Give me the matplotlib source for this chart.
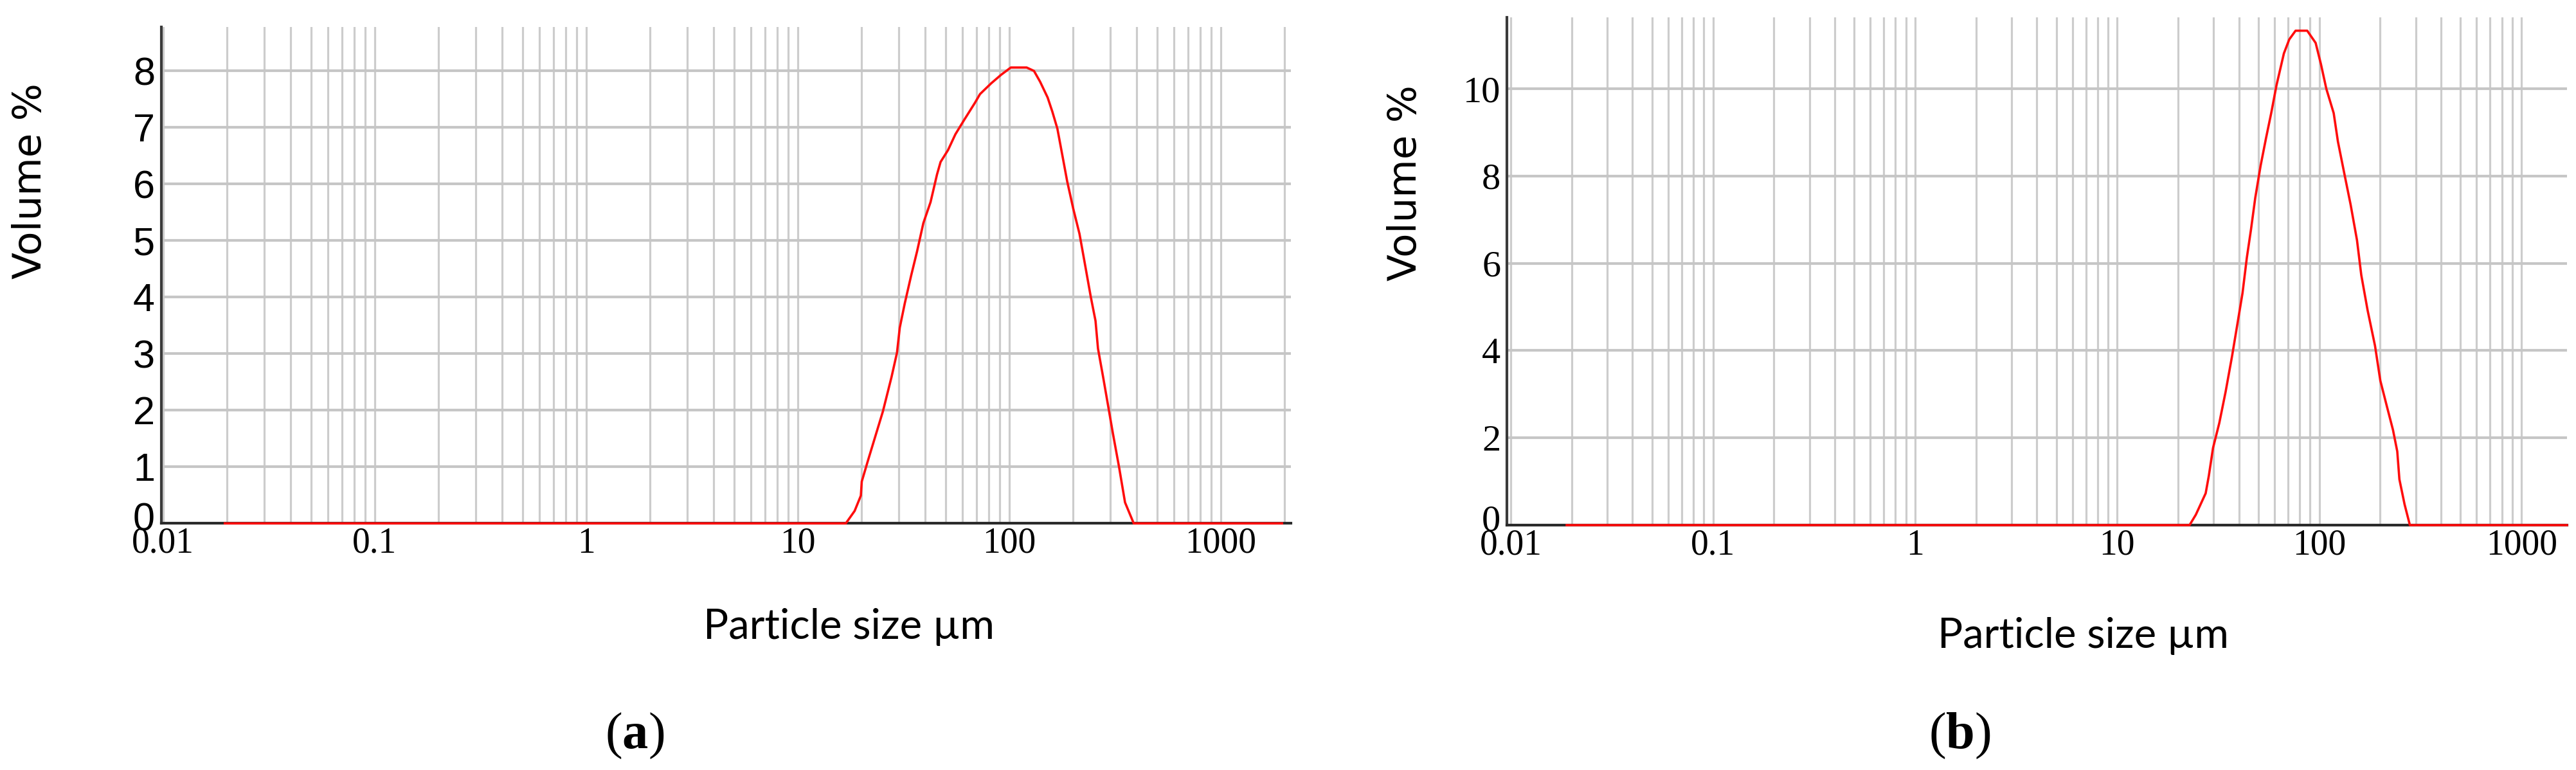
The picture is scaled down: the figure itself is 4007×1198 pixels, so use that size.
import numpy as np
import matplotlib
matplotlib.use("Agg")
import matplotlib.pyplot as plt
from matplotlib.ticker import LogLocator, NullFormatter
from matplotlib.transforms import ScaledTranslation

plt.rcParams['mathtext.fontset'] = 'custom'
plt.rcParams['mathtext.rm'] = 'Liberation Serif'
plt.rcParams['mathtext.bf'] = 'Liberation Serif:bold'

# particle size distribution (size in um, volume %)
size_a = [0.0196, 16.9, 18.6, 19.9, 20.1, 21.5, 23.3, 25.3, 27.8, 29.5, 30.4,
          32.1, 34.4, 36.7, 39.3, 42.5, 45.6, 47.4, 51.4, 55.7, 61.2, 69.0,
          72.8, 82.2, 91.5, 101.8, 121, 131, 140, 152, 160, 169, 179, 188,
          201, 215, 227, 243, 256, 263, 278, 293, 309, 331, 353, 388, 1950]
vol_a = [0, 0, 0.22, 0.49, 0.74, 1.11, 1.54, 1.98, 2.59, 3.02, 3.46,
         3.89, 4.38, 4.81, 5.31, 5.68, 6.17, 6.39, 6.60, 6.88, 7.13, 7.44,
         7.59, 7.78, 7.93, 8.06, 8.06, 8.00, 7.81, 7.53, 7.28, 6.98, 6.48, 6.05,
         5.56, 5.12, 4.63, 4.01, 3.58, 3.09, 2.59, 2.10, 1.60, 0.99, 0.37, 0, 0]

size_b = [0.0189, 22.8, 24.5, 27.4, 28.4, 29.8, 32.0, 34.4, 37.0, 39.3, 41.7,
          43.8, 45.9, 48.2, 51.2, 54.5, 57.8, 61.4, 66.8, 71.0, 76.3, 87.1,
          95.9, 101.9, 108.3, 117.8, 123.6, 132.9, 142.9, 153.6, 161.3, 173.4,
          188.6, 200.4, 215.4, 231.5, 243, 249, 264, 280.6, 1680]
vol_b = [0, 0, 0.24, 0.73, 1.13, 1.77, 2.34, 3.06, 3.87, 4.60, 5.32,
         6.13, 6.77, 7.50, 8.23, 8.87, 9.44, 10.08, 10.81, 11.13, 11.33, 11.33,
         11.05, 10.56, 10.00, 9.44, 8.79, 8.06, 7.34, 6.53, 5.73, 4.92,
         4.11, 3.31, 2.74, 2.18, 1.69, 1.05, 0.48, 0, 0]

x_ticks = [0.01, 0.1, 1, 10, 100, 1000]
x_tick_labels = ['0.01', '0.1', '1', '10', '100', '1000']
y_ticks_a = [0, 1, 2, 3, 4, 5, 6, 7, 8]
y_ticks_b = [0, 2, 4, 6, 8, 10]

fig = plt.figure(figsize=(40.07, 11.98), dpi=100)
ax_a = fig.add_axes([0.06257, 0.3203, 0.4386, 0.6449])
ax_b = fig.add_axes([0.585, 0.318, 0.4115, 0.6597])


def setup(ax, xlim, ylim, yticks, yfont, ysize):
    ax.set_xscale('log')
    ax.set_xlim(*xlim)
    ax.set_ylim(*ylim)
    ax.set_xticks(x_ticks, labels=x_tick_labels)
    ax.xaxis.set_minor_locator(LogLocator(base=10, subs=np.arange(2, 10), numticks=60))
    ax.xaxis.set_minor_formatter(NullFormatter())
    ax.set_yticks(yticks)
    ax.grid(True, which='both', axis='x', color='#cccccc', lw=2.3)
    ax.grid(True, which='major', axis='y', color='#c6c6c6', lw=3.0)
    ax.set_axisbelow(True)
    ax.tick_params(axis='both', which='both', length=0)
    ax.tick_params(axis='x', pad=4, labelsize=40, labelfontfamily='Liberation Serif')
    ax.tick_params(axis='y', pad=7, labelsize=ysize, labelfontfamily=yfont)
    for s in ['top', 'right']:
        ax.spines[s].set_visible(False)
    ax.spines['left'].set_color('#3a3a3a')
    ax.spines['left'].set_linewidth(3)
    ax.spines['bottom'].set_color('#2a2a2a')
    ax.spines['bottom'].set_linewidth(3)
    # the "0" sits a little above the baseline, as in the original software
    zero = ax.yaxis.get_major_ticks()[0].label1
    zero.set_transform(zero.get_transform() + ScaledTranslation(0, 8 / 72, fig.dpi_scale_trans))


setup(ax_a, (0.0098, 2150), (0, 8.78), y_ticks_a, 'Liberation Sans', 44)
setup(ax_b, (0.00957, 1680), (0, 11.64), y_ticks_b, 'Liberation Serif', 42)

ax_a.plot(size_a, vol_a, color='#ff0d0d', lw=2.6, clip_on=False, zorder=3)
ax_b.plot(size_b, vol_b, color='#ff0d0d', lw=2.6, clip_on=False, zorder=3)

# axis titles
fig.text(48 / 4007, 1 - 282 / 1198, 'Volume %', rotation=90, ha='center', va='center',
         fontsize=44, family='DejaVu Sans')
fig.text(2187 / 4007, 1 - 285 / 1198, 'Volume %', rotation=90, ha='center', va='center',
         fontsize=44, family='DejaVu Sans')
fig.text(1320 / 4007, 1 - 994 / 1198, 'Particle size µm', ha='center', va='baseline',
         fontsize=47, family='Lato')
fig.text(3241 / 4007, 1 - 1008 / 1198, 'Particle size µm', ha='center', va='baseline',
         fontsize=47, family='Lato')

# panel letters
fig.text(987 / 4007, 1 - 1164 / 1198, r'$\mathrm{(}\mathbf{a}\mathrm{)}$', ha='center',
         va='baseline', fontsize=58)
fig.text(3048 / 4007, 1 - 1164 / 1198, r'$\mathrm{(}\mathbf{b}\mathrm{)}$', ha='center',
         va='baseline', fontsize=58)

fig.savefig('out.png', dpi=100)
